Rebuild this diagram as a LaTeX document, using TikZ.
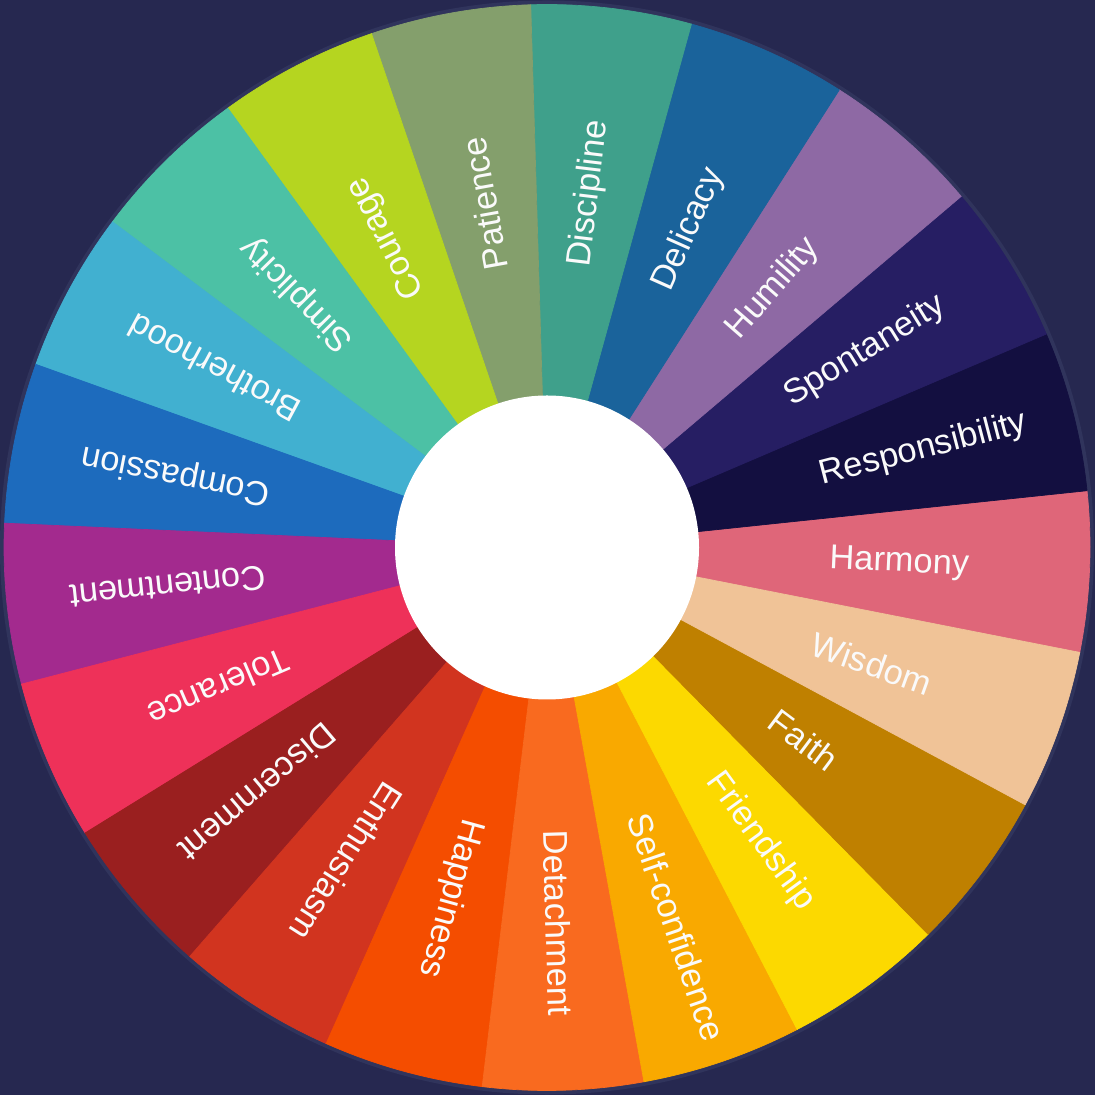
\documentclass[tikz,border=0pt]{standalone}
\usepackage{fontspec}
\setmainfont{Liberation Sans}
\usetikzlibrary{positioning}
\definecolor{bg}{HTML}{262850}
\definecolor{rim}{HTML}{30345C}
\definecolor{cHarmony}{HTML}{DF6679}
\definecolor{cResponsibility}{HTML}{130F40}
\definecolor{cSpontaneity}{HTML}{261E63}
\definecolor{cHumility}{HTML}{8E69A4}
\definecolor{cDelicacy}{HTML}{1A639B}
\definecolor{cDiscipline}{HTML}{3FA08B}
\definecolor{cPatience}{HTML}{849F6C}
\definecolor{cCourage}{HTML}{B5D520}
\definecolor{cSimplicity}{HTML}{4CC1A5}
\definecolor{cBrotherhood}{HTML}{41B0D0}
\definecolor{cCompassion}{HTML}{1D6BBD}
\definecolor{cContentment}{HTML}{A32A8E}
\definecolor{cTolerance}{HTML}{EE3159}
\definecolor{cDiscernment}{HTML}{9A1F1F}
\definecolor{cEnthusiasm}{HTML}{D1341F}
\definecolor{cHappiness}{HTML}{F44D00}
\definecolor{cDetachment}{HTML}{F96A1F}
\definecolor{cSelfconfidence}{HTML}{F9A900}
\definecolor{cFriendship}{HTML}{FCD900}
\definecolor{cFaith}{HTML}{BF8000}
\definecolor{cWisdom}{HTML}{F0C397}

\begin{document}
\begin{tikzpicture}[every node/.style={font=\fontsize{9.8}{12}\selectfont},
  word/.style={anchor=west, inner sep=0pt, text=white!96!gray}]
  \fill[bg] (-5.47,-5.475) rectangle (5.48,5.475);
  \draw[rim, line width=0.6mm] (0,0) circle (5.44);
  \foreach \c [count=\i from 0] in {cHarmony, cResponsibility, cSpontaneity, cHumility,
      cDelicacy, cDiscipline, cPatience, cCourage, cSimplicity, cBrotherhood,
      cCompassion, cContentment, cTolerance, cDiscernment, cEnthusiasm, cHappiness,
      cDetachment, cSelfconfidence, cFriendship, cFaith, cWisdom}{
    \pgfmathsetmacro\s{-11.14+\i*360/21}
    \pgfmathsetmacro\e{\s+360/21}
    \fill[\c, draw=\c, line width=0.2pt] (0,0) -- (\s:5.43) arc[start angle=\s, end angle=\e, radius=5.43] -- cycle;
  }
  \fill[white] (0,0) circle (1.52);
  \foreach \n [count=\i from 0] in {Harmony, Responsibility, Spontaneity, Humility,
      Delicacy, Discipline, Patience, Courage, Simplicity, Brotherhood, Compassion,
      Contentment, Tolerance, Discernment, Enthusiasm, Happiness, Detachment,
      Self-confidence, Friendship, Faith, Wisdom}{
    \pgfmathsetmacro\m{-11.14+(\i+0.5)*360/21}
    \node[word, rotate=\m] (w\i) at (\m:2.82) {\n};
  }
\end{tikzpicture}
\end{document}
